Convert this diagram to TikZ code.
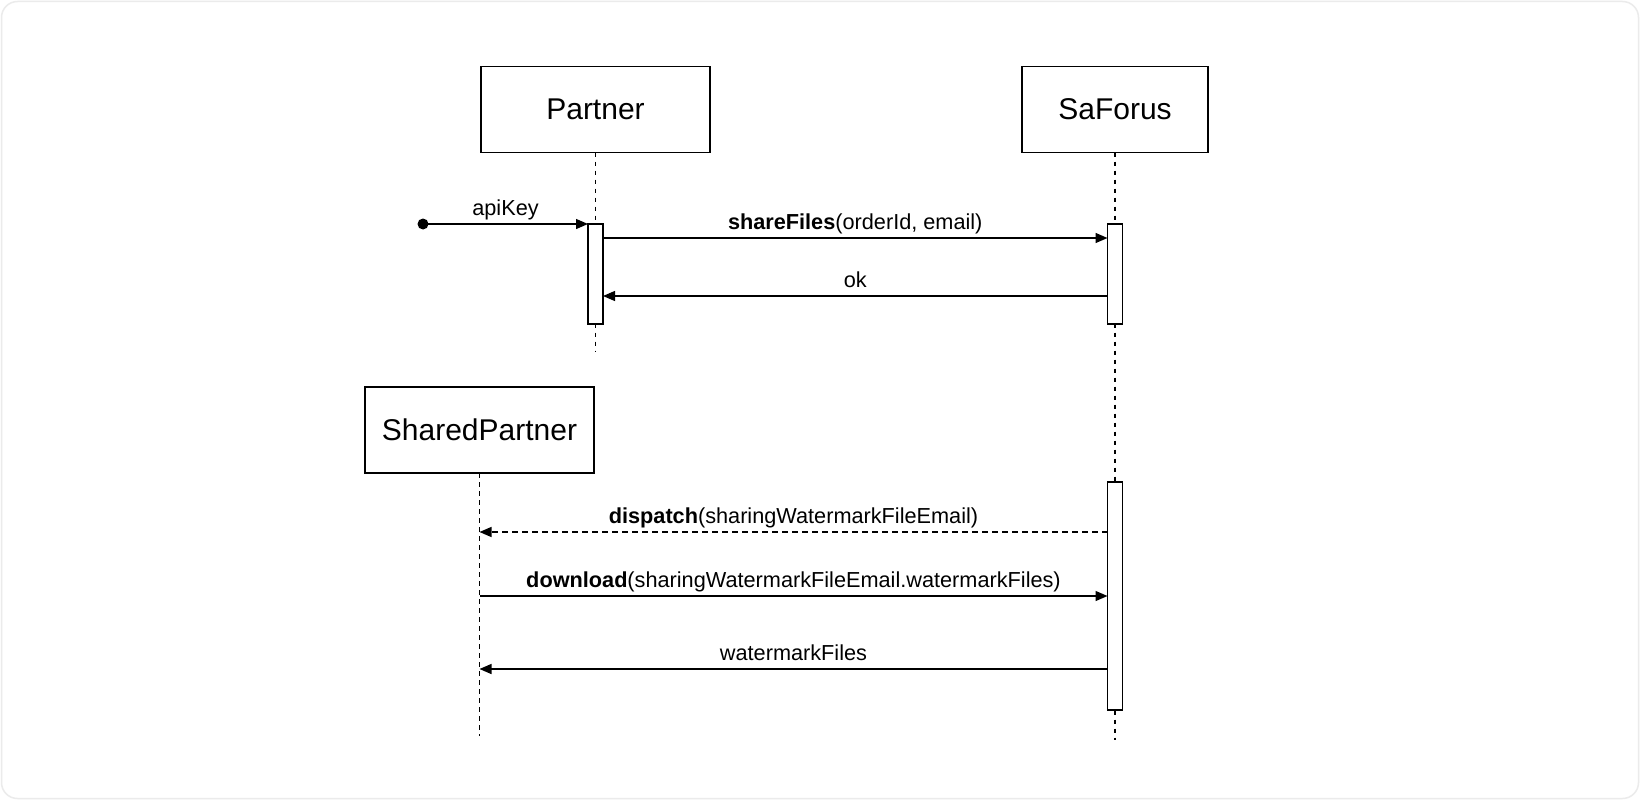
\documentclass[tikz,border=0pt]{standalone}
\usepackage{fontspec}
\setmainfont{Liberation Sans}
\usetikzlibrary{arrows.meta}
\begin{document}
\begin{tikzpicture}[x=1pt,y=-1pt,
  actor/.style={draw=black,line width=1.4pt,fill=white,inner sep=0pt,outer sep=0pt,
    minimum height=86pt,font=\fontsize{30}{35}\selectfont},
  life/.style={draw=black,line width=1.3pt,dash pattern=on 4.5pt off 4.5pt},
  actbar/.style={draw=black,line width=1.4pt,fill=white,inner sep=0pt,outer sep=0pt,minimum width=15pt},
  msg/.style={draw=black,line width=1.3pt,-{Triangle[length=12pt,width=10pt]}},
  reply/.style={msg,dash pattern=on 6pt off 4pt},
  lbl/.style={anchor=base,yshift=9pt,inner sep=0pt,font=\fontsize{21.7}{26}\selectfont}]
\useasboundingbox (0,0) rectangle (1640,800);
\fill[white] (0,0) rectangle (1640,800);
\draw[draw=black!8,line width=1.5pt,rounded corners=16pt,fill=white] (1.5,1.5) rectangle (1638.5,798.5);

% actors
\node[actor,minimum width=229pt] (partner) at (595.5,109.5) {Partner};
\node[actor,minimum width=186pt] (saforus) at (1115,109.5) {SaForus};
\node[actor,minimum width=229pt] (shared) at (479.5,430) {SharedPartner};

% lifeline ends
\coordinate (partnerEnd) at (595.5,352);
\coordinate (saforusEnd) at (1115,740);
\coordinate (sharedEnd) at (479.5,736);
\draw[life] (partner.south) -- (partnerEnd);
\draw[life] (saforus.south) -- (saforusEnd);
\draw[life] (shared.south) -- (sharedEnd);

% activation bars
\node[actbar,minimum height=100pt] (act1) at (595.5,274) {};
\node[actbar,minimum height=100pt] (act2) at (1115,274) {};
\node[actbar,minimum height=228pt] (act3) at (1115,596) {};

% messages
\coordinate (start) at (423,224);
\fill[black] (start) circle (5.5pt);
\draw[msg] (start) -- node[lbl] {apiKey} (act1.north west);

\draw[msg] (act1.east |- 0,238) -- node[lbl] {\textbf{shareFiles}(orderId, email)} (act2.west |- 0,238);
\draw[msg] (act2.west |- 0,296) -- node[lbl] {ok} (act1.east |- 0,296);

\draw[reply] (act3.west |- 0,532) -- node[lbl] {\textbf{dispatch}(sharingWatermarkFileEmail)} (shared.south |- 0,532);
\draw[msg] (shared.south |- 0,596) -- node[lbl] {\textbf{download}(sharingWatermarkFileEmail.watermarkFiles)} (act3.west |- 0,596);
\draw[msg] (act3.west |- 0,669) -- node[lbl] {watermarkFiles} (shared.south |- 0,669);
\end{tikzpicture}
\end{document}
